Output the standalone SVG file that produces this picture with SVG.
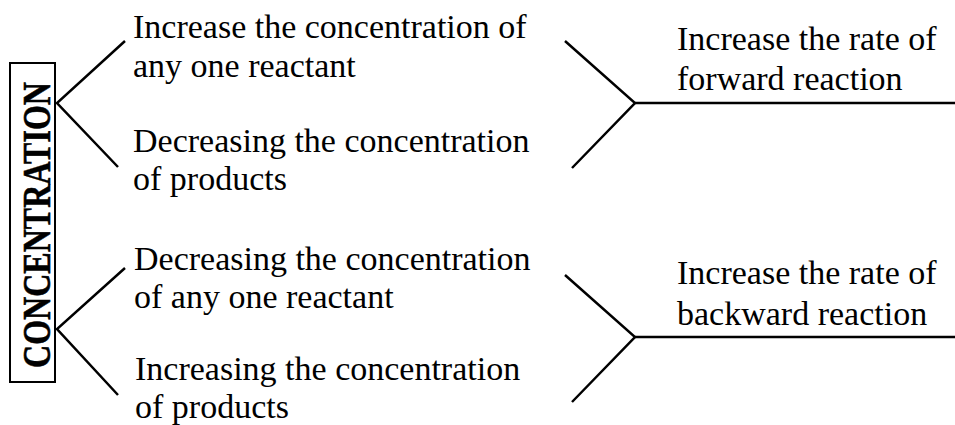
<svg xmlns="http://www.w3.org/2000/svg" width="955" height="425" viewBox="0 0 955 425">
<style>
.t{font-family:"Liberation Serif","Times New Roman",serif;font-size:34px;fill:#000}
.b{font-family:"Liberation Serif","Times New Roman",serif;font-size:41px;font-weight:bold;fill:#000;stroke:#000;stroke-width:0.6}
.ln{stroke:#000;stroke-width:2.5;fill:none;stroke-linecap:butt}
</style>
<rect width="955" height="425" fill="#fff"/>
<g id="concentration">
<rect x="10" y="63" width="45" height="319" fill="#fff" stroke="#000" stroke-width="2"/>
<text class="b" transform="translate(49.5,225) rotate(-90)" text-anchor="middle" textLength="286" lengthAdjust="spacingAndGlyphs">CONCENTRATION</text>
</g>
<g id="n1"><text class="t" x="133" y="38">Increase the concentration of</text><text class="t" x="133" y="77">any one reactant</text></g>
<g id="n2"><text class="t" x="133" y="152">Decreasing the concentration</text><text class="t" x="133" y="190">of products</text></g>
<g id="n3"><text class="t" x="134" y="270">Decreasing the concentration</text><text class="t" x="134" y="308">of any one reactant</text></g>
<g id="n4"><text class="t" x="135" y="380">Increasing the concentration</text><text class="t" x="135" y="418">of products</text></g>
<g id="n5"><text class="t" x="677" y="50">Increase the rate of</text><text class="t" x="677" y="90">forward reaction</text></g>
<g id="n6"><text class="t" x="677" y="284">Increase the rate of</text><text class="t" x="677" y="325">backward reaction</text></g>
<g id="connectors">
<path class="ln" d="M125,41 L57,103 L118,167"/>
<path class="ln" d="M125,268 L57,329 L118,395"/>
<path class="ln" d="M565,41 L635,103 L572,168"/>
<line class="ln" x1="635" y1="103" x2="955" y2="103" stroke-width="3"/>
<path class="ln" d="M565,275 L635,337 L572,402"/>
<line class="ln" x1="635" y1="337" x2="955" y2="337" stroke-width="3"/>
</g>
</svg>
